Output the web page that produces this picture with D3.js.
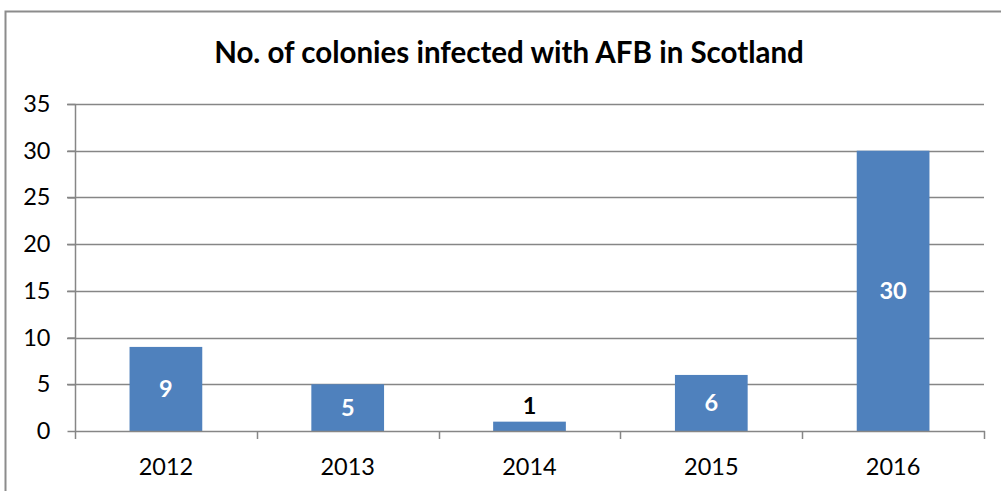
<!DOCTYPE html>
<html><head><meta charset="utf-8">
<script src="https://cdn.jsdelivr.net/npm/d3@7"></script>
<style>body{margin:0;background:#fff;}svg{display:block;}</style>
</head><body>
<script>
const categories = ["2012","2013","2014","2015","2016"];
const values = [9,5,1,6,30];
const yTicks = [0,5,10,15,20,25,30,35];
const title = "No. of colonies infected with AFB in Scotland";

const W=1001,H=491;
const font="Lato, 'Open Sans', sans-serif";
const svg=d3.select("body").append("svg").attr("width",W).attr("height",H);
svg.append("rect").attr("x",5.5).attr("y",11.5).attr("width",1010).attr("height",500)
  .attr("fill","#fff").attr("stroke","#8c8c8c").attr("stroke-width",2);

const x=d3.scaleBand().domain(categories).range([75,984]).padding(0);
const y=d3.scaleLinear().domain([0,35]).range([431,104]);
const grey="#868686";

// gridlines
svg.append("g").selectAll("line").data(yTicks.filter(d=>d>0)).join("line")
  .attr("x1",67).attr("x2",984).attr("y1",d=>Math.round(y(d))+0.5).attr("y2",d=>Math.round(y(d))+0.5)
  .attr("stroke",grey).attr("stroke-width",1.5);

// bars
const bw=x.bandwidth()*0.4;
svg.append("g").selectAll("rect").data(values).join("rect")
  .attr("x",(d,i)=>x(categories[i])+x.bandwidth()/2-bw/2)
  .attr("width",bw)
  .attr("y",d=>y(d)).attr("height",d=>y(0)-y(d))
  .attr("fill","#4f81bd");

// y axis
const yAxis=d3.axisLeft(y).tickValues(yTicks).tickSize(8).tickPadding(17);
const gy=svg.append("g").attr("transform","translate(75.5,0)").call(yAxis);
gy.select(".domain").attr("stroke",grey).attr("stroke-width",1.5).attr("d","M0,104V431");
gy.selectAll(".tick line").attr("stroke",grey).attr("stroke-width",1.5);
gy.selectAll(".tick text").attr("font-family",font).attr("font-size",23.5).attr("fill","#000");

// x axis
svg.append("line").attr("x1",75).attr("x2",985).attr("y1",431.5).attr("y2",431.5).attr("stroke",grey).attr("stroke-width",1.5);
const bounds=categories.map(c=>x(c)).concat([x.range()[1]]);
svg.append("g").selectAll("line").data(bounds).join("line")
  .attr("x1",d=>Math.round(d)+0.5).attr("x2",d=>Math.round(d)+0.5).attr("y1",431).attr("y2",439)
  .attr("stroke",grey).attr("stroke-width",1.5);
svg.append("g").selectAll("text").data(categories).join("text")
  .attr("x",d=>x(d)+x.bandwidth()/2).attr("y",475).attr("text-anchor","middle")
  .attr("font-family",font).attr("font-size",23.5).attr("fill","#000").text(d=>d);

// labels
svg.append("g").selectAll("text").data(values).join("text")
  .attr("x",(d,i)=>x(categories[i])+x.bandwidth()/2)
  .attr("y",d=>{const h=y(0)-y(d); return h>25 ? (y(d)+y(0))/2+8.5 : y(d)-8;})
  .attr("text-anchor","middle").attr("font-family",font).attr("font-weight","bold").attr("font-size",23.5)
  .attr("fill",d=>(y(0)-y(d))>25?"#fff":"#000").text(d=>d);

svg.append("text").attr("x",509).attr("y",63).attr("text-anchor","middle")
  .attr("font-family",font).attr("font-weight","bold").attr("font-size",29.5).attr("fill","#000").text(title);
</script>
</body></html>
